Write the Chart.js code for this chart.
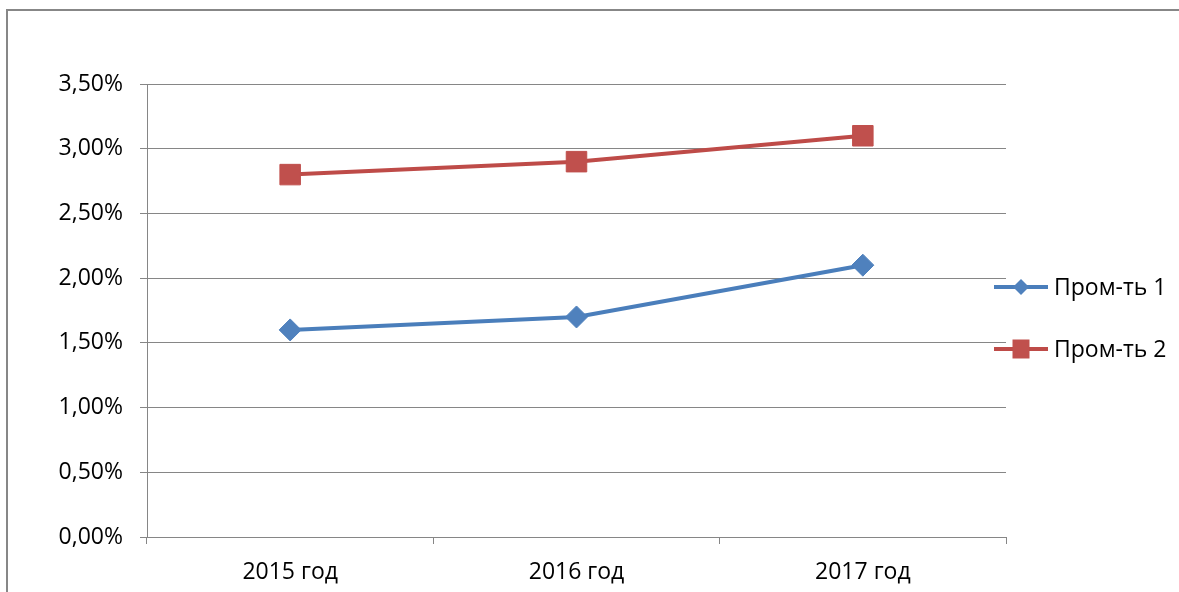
<!DOCTYPE html>
<html>
<head>
<meta charset="utf-8">
<script src="https://cdn.jsdelivr.net/npm/chart.js@4/dist/chart.umd.min.js"></script>
<style>
html, body { margin: 0; padding: 0; background: #fff; overflow: hidden; }
#frame { position: absolute; left: 6px; top: 9px; width: 1300px; height: 700px; border: 2px solid #878787; }
#wrap { position: absolute; left: 0; top: 0; width: 1179px; height: 592px; }
</style>
</head>
<body>
<div id="frame"></div>
<div id="wrap"><canvas id="chart"></canvas></div>
<script>
// chart values
const years = ['2015 год', '2016 год', '2017 год'];
const prom1 = [0.016, 0.017, 0.021];
const prom2 = [0.028, 0.029, 0.031];
const seriesNames = ['Пром-ть 1', 'Пром-ть 2'];
const yMax = 0.035;
const yStep = 0.005;

const gridColor = '#868686';
const fontFamily = "'Open Sans', 'Noto Sans', sans-serif";

function pct(v) {
    return (v * 100).toFixed(2).replace('.', ',') + '%';
}

// legend on the right: line with marker, like excel
const sideLegend = {
    id: 'sideLegend',
    afterDraw(chart) {
        const ctx = chart.ctx;
        const area = chart.chartArea;
        const mid = (area.top + area.bottom) / 2;
        chart.data.datasets.forEach((ds, i) => {
            const y = mid - 23.5 + i * 62;
            const mx = area.right + 15;
            ctx.save();
            ctx.strokeStyle = ds.borderColor;
            ctx.lineWidth = 4;
            ctx.beginPath();
            ctx.moveTo(area.right - 12, y);
            ctx.lineTo(area.right + 42, y);
            ctx.stroke();
            ctx.fillStyle = ds.pointBackgroundColor;
            ctx.beginPath();
            if (ds.pointStyle === 'rectRot') {
                const r = 8;
                ctx.moveTo(mx, y - r);
                ctx.lineTo(mx + r, y);
                ctx.lineTo(mx, y + r);
                ctx.lineTo(mx - r, y);
                ctx.closePath();
            } else {
                ctx.rect(mx - 8.5, y - 9.5, 17, 19);
            }
            ctx.fill();
            ctx.fillStyle = '#000';
            ctx.font = '23px ' + fontFamily;
            ctx.textAlign = 'left';
            ctx.textBaseline = 'middle';
            ctx.fillText(ds.label, area.right + 48, y + 1);
            ctx.restore();
        });
    }
};

new Chart(document.getElementById('chart'), {
    type: 'line',
    data: {
        labels: years,
        datasets: [
            {
                label: seriesNames[0],
                data: prom1,
                borderColor: '#4a7ebb',
                borderWidth: 4,
                pointStyle: 'rectRot',
                pointRadius: 11,
                pointBackgroundColor: '#4f81bd',
                pointBorderColor: '#4f81bd',
                pointBorderWidth: 1,
                tension: 0
            },
            {
                label: seriesNames[1],
                data: prom2,
                borderColor: '#be4b48',
                borderWidth: 4,
                pointStyle: 'rect',
                pointRadius: 14.5,
                pointBackgroundColor: '#c0504d',
                pointBorderColor: '#c0504d',
                pointBorderWidth: 1,
                tension: 0
            }
        ]
    },
    options: {
        responsive: true,
        maintainAspectRatio: false,
        animation: false,
        layout: { padding: { left: 0, right: 173, top: 84, bottom: 0 } },
        plugins: {
            legend: { display: false },
            tooltip: { enabled: false }
        },
        scales: {
            x: {
                offset: true,
                grid: { drawOnChartArea: false, color: gridColor, tickLength: 7, offset: true },
                border: { display: true, color: gridColor },
                ticks: { color: '#000', padding: 15, font: { family: fontFamily, size: 23 } },
                afterFit(scale) { scale.height = 55; }
            },
            y: {
                min: 0,
                max: yMax,
                grid: { color: gridColor, tickLength: 7 },
                border: { display: true, color: gridColor },
                ticks: {
                    stepSize: yStep,
                    color: '#000',
                    padding: 17,
                    font: { family: fontFamily, size: 23 },
                    callback: v => pct(v)
                },
                afterFit(scale) { scale.width = 147; }
            }
        }
    },
    plugins: [sideLegend]
});
</script>
</body>
</html>
